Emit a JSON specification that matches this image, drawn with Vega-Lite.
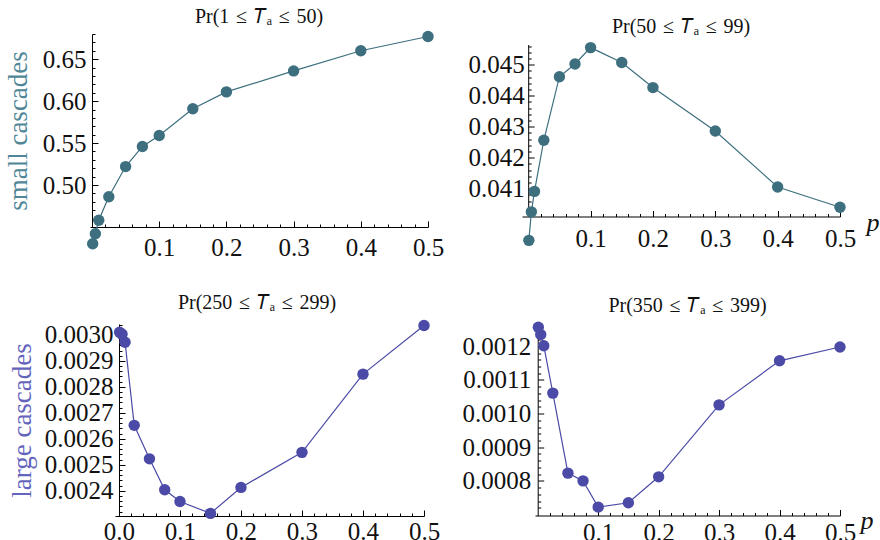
{
  "$schema": "https://vega.github.io/schema/vega-lite/v6.json",
  "background": "white",
  "padding": {"left": 4, "top": 6, "right": 5, "bottom": 2},
  "datasets": {
    "s1": [
      {"p": 0.001, "pr": 0.430}, {"p": 0.005, "pr": 0.442}, {"p": 0.01, "pr": 0.458},
      {"p": 0.025, "pr": 0.486}, {"p": 0.05, "pr": 0.522}, {"p": 0.075, "pr": 0.546},
      {"p": 0.1, "pr": 0.559}, {"p": 0.15, "pr": 0.591}, {"p": 0.2, "pr": 0.611},
      {"p": 0.3, "pr": 0.636}, {"p": 0.4, "pr": 0.660}, {"p": 0.5, "pr": 0.677}
    ],
    "s2": [
      {"p": 0.001, "pr": 0.03933}, {"p": 0.005, "pr": 0.04025}, {"p": 0.01, "pr": 0.04091},
      {"p": 0.025, "pr": 0.04256}, {"p": 0.05, "pr": 0.04461}, {"p": 0.075, "pr": 0.04502},
      {"p": 0.1, "pr": 0.04555}, {"p": 0.15, "pr": 0.04507}, {"p": 0.2, "pr": 0.04426},
      {"p": 0.3, "pr": 0.04286}, {"p": 0.4, "pr": 0.04105}, {"p": 0.5, "pr": 0.04040}
    ],
    "s3": [
      {"p": 0.001, "pr": 0.003010}, {"p": 0.005, "pr": 0.003003}, {"p": 0.01, "pr": 0.002972},
      {"p": 0.025, "pr": 0.002652}, {"p": 0.05, "pr": 0.002523}, {"p": 0.075, "pr": 0.002404},
      {"p": 0.1, "pr": 0.002359}, {"p": 0.15, "pr": 0.002313}, {"p": 0.2, "pr": 0.002413},
      {"p": 0.3, "pr": 0.002548}, {"p": 0.4, "pr": 0.002849}, {"p": 0.5, "pr": 0.003036}
    ],
    "s4": [
      {"p": 0.001, "pr": 0.001257}, {"p": 0.005, "pr": 0.001235}, {"p": 0.01, "pr": 0.001202},
      {"p": 0.025, "pr": 0.001061}, {"p": 0.05, "pr": 0.000823}, {"p": 0.075, "pr": 0.000800},
      {"p": 0.1, "pr": 0.000722}, {"p": 0.15, "pr": 0.000735}, {"p": 0.2, "pr": 0.000812},
      {"p": 0.3, "pr": 0.001026}, {"p": 0.4, "pr": 0.001157}, {"p": 0.5, "pr": 0.001198}
    ]
  },
  "config": {
    "view": {"stroke": null},
    "axis": {
      "grid": false,
      "domainColor": "#000",
      "domainWidth": 1,
      "tickColor": "#000",
      "tickWidth": 1,
      "labelFont": "Liberation Serif",
      "labelFontSize": 25,
      "labelColor": "#111",
      "labelFlush": false,
      "labelOverlap": false,
      "titleFont": "Liberation Serif",
      "titleFontWeight": "normal"
    },
    "title": {"font": "Liberation Serif", "fontSize": 20, "fontWeight": "normal", "color": "#111", "frame": "group", "anchor": "middle"}
  },
  "vconcat": [
    {
      "hconcat": [
        {
          "width": 338, "height": 193,
          "title": {"text": "Pr(1\u2004≤\u2004𝑇ₐ\u2004≤\u200450)", "offset": 4},
          "data": {"name": "s1"},
          "layer": [
            {
              "mark": {"type": "line", "color": "#3d6f7f", "strokeWidth": 1.2, "clip": false},
              "encoding": {
                "x": {"field": "p", "type": "quantitative", "scale": {"domain": [-0.003, 0.5], "nice": false, "zero": false},
                  "axis": {"title": null, "values": [0.1, 0.2, 0.3, 0.4, 0.5], "format": ".1f", "tickSize": -6, "labelPadding": 14}},
                "y": {"field": "pr", "type": "quantitative", "scale": {"domain": [0.45, 0.68], "nice": false, "zero": false},
                  "axis": {"title": "small cascades", "titleColor": "#4f8798", "titleFontSize": 27, "titlePadding": 10, "offset": -2,
                    "values": [0.5, 0.55, 0.6, 0.65], "format": ".2f", "tickSize": -6, "labelPadding": 12}}
              }
            },
            {
              "mark": {"type": "circle", "color": "#3d6f7f", "size": 130, "opacity": 1, "clip": false},
              "encoding": {
                "x": {"field": "p", "type": "quantitative",
                  "axis": {"orient": "bottom", "title": null, "labels": false, "domain": false, "tickSize": -3,
                    "values": [0.02, 0.04, 0.06, 0.08, 0.12, 0.14, 0.16, 0.18, 0.22, 0.24, 0.26, 0.28, 0.32, 0.34, 0.36, 0.38, 0.42, 0.44, 0.46, 0.48]}},
                "y": {"field": "pr", "type": "quantitative",
                  "axis": {"orient": "left", "offset": -2, "title": null, "labels": false, "domain": false, "tickSize": -3,
                    "values": [0.46, 0.47, 0.48, 0.49, 0.51, 0.52, 0.53, 0.54, 0.56, 0.57, 0.58, 0.59, 0.61, 0.62, 0.63, 0.64, 0.66, 0.67, 0.68]}}
              }
            }
          ],
          "resolve": {"axis": {"x": "independent", "y": "independent"}}
        },
        {
          "width": 318, "height": 172,
          "title": {"text": "Pr(50\u2004≤\u2004𝑇ₐ\u2004≤\u200499)", "offset": 5},
          "data": {"name": "s2"},
          "layer": [
            {
              "mark": {"type": "line", "color": "#3d6f7f", "strokeWidth": 1.2, "clip": false},
              "encoding": {
                "x": {"field": "p", "type": "quantitative", "scale": {"domain": [-0.01, 0.5], "nice": false, "zero": false},
                  "axis": {"title": "p", "titleFontStyle": "italic", "titleFontSize": 26, "titleColor": "#111", "titleAnchor": "start", "titleAlign": "left", "titleBaseline": "middle", "titleX": 344, "titleY": 6,
                    "values": [0.1, 0.2, 0.3, 0.4, 0.5], "format": ".1f", "tickSize": -6, "labelPadding": 16}},
                "y": {"field": "pr", "type": "quantitative", "scale": {"domain": [0.0401, 0.04565], "nice": false, "zero": false},
                  "axis": {"title": null, "offset": -6.2, "values": [0.041, 0.042, 0.043, 0.044, 0.045], "format": ".3f", "tickSize": -6, "labelPadding": 10}}
              }
            },
            {
              "mark": {"type": "circle", "color": "#3d6f7f", "size": 130, "opacity": 1, "clip": false},
              "encoding": {
                "x": {"field": "p", "type": "quantitative",
                  "axis": {"orient": "bottom", "title": null, "labels": false, "domain": false, "tickSize": -3,
                    "values": [0.02, 0.04, 0.06, 0.08, 0.12, 0.14, 0.16, 0.18, 0.22, 0.24, 0.26, 0.28, 0.32, 0.34, 0.36, 0.38, 0.42, 0.44, 0.46, 0.48]}},
                "y": {"field": "pr", "type": "quantitative",
                  "axis": {"orient": "left", "offset": -6.2, "title": null, "labels": false, "domain": false, "tickSize": -3,
                    "values": [0.0402, 0.0404, 0.0406, 0.0408, 0.0412, 0.0414, 0.0416, 0.0418, 0.0422, 0.0424, 0.0426, 0.0428, 0.0432, 0.0434, 0.0436, 0.0438, 0.0442, 0.0444, 0.0446, 0.0448, 0.0452, 0.0454, 0.0456]}}
              }
            }
          ],
          "resolve": {"axis": {"x": "independent", "y": "independent"}}
        }
      ],
      "spacing": 94,
      "bounds": "flush",
      "center": true
    },
    {
      "hconcat": [
        {
          "width": 334, "height": 192,
          "title": {"text": "Pr(250\u2004≤\u2004𝑇ₐ\u2004≤\u2004299)", "offset": 7},
          "data": {"name": "s3"},
          "layer": [
            {
              "mark": {"type": "line", "color": "#4b4aa6", "strokeWidth": 1.2, "clip": false},
              "encoding": {
                "x": {"field": "p", "type": "quantitative", "scale": {"domain": [-0.0065, 0.5], "range": [25, 334], "nice": false, "zero": false},
                  "axis": {"title": null, "values": [0, 0.1, 0.2, 0.3, 0.4, 0.5], "format": ".1f", "tickSize": -6, "labelPadding": 9.5}},
                "y": {"field": "pr", "type": "quantitative", "scale": {"domain": [0.002303, 0.003042], "nice": false, "zero": false},
                  "axis": {"title": "large cascades", "titleColor": "#6464bd", "titleFontSize": 27, "titlePadding": 8, "offset": -29,
                    "values": [0.0024, 0.0025, 0.0026, 0.0027, 0.0028, 0.0029, 0.003], "format": ".4f", "tickSize": -6, "labelPadding": 12}}
              }
            },
            {
              "mark": {"type": "circle", "color": "#4b4aa6", "size": 130, "opacity": 1, "clip": false},
              "encoding": {
                "x": {"field": "p", "type": "quantitative",
                  "axis": {"orient": "bottom", "title": null, "labels": false, "domain": false, "tickSize": -3,
                    "values": [0.02, 0.04, 0.06, 0.08, 0.12, 0.14, 0.16, 0.18, 0.22, 0.24, 0.26, 0.28, 0.32, 0.34, 0.36, 0.38, 0.42, 0.44, 0.46, 0.48]}},
                "y": {"field": "pr", "type": "quantitative",
                  "axis": {"orient": "left", "offset": -29, "title": null, "labels": false, "domain": false, "tickSize": -3,
                    "values": [0.00232, 0.00234, 0.00236, 0.00238, 0.00242, 0.00244, 0.00246, 0.00248, 0.00252, 0.00254, 0.00256, 0.00258, 0.00262, 0.00264, 0.00266, 0.00268, 0.00272, 0.00274, 0.00276, 0.00278, 0.00282, 0.00284, 0.00286, 0.00288, 0.00292, 0.00294, 0.00296, 0.00298, 0.00302, 0.00304]}}
              }
            }
          ],
          "resolve": {"axis": {"x": "independent", "y": "independent"}}
        },
        {
          "width": 305, "height": 191,
          "title": {"text": "Pr(350\u2004≤\u2004𝑇ₐ\u2004≤\u2004399)", "offset": 5},
          "data": {"name": "s4"},
          "layer": [
            {
              "mark": {"type": "line", "color": "#4b4aa6", "strokeWidth": 1.2, "clip": false},
              "encoding": {
                "x": {"field": "p", "type": "quantitative", "scale": {"domain": [-0.0045, 0.5], "nice": false, "zero": false},
                  "axis": {"title": "p", "titleFontStyle": "italic", "titleFontSize": 26, "titleColor": "#111", "titleAnchor": "start", "titleAlign": "left", "titleBaseline": "middle", "titleX": 325, "titleY": 5,
                    "values": [0.1, 0.2, 0.3, 0.4, 0.5], "format": ".1f", "tickSize": -6, "labelPadding": 10.5}},
                "y": {"field": "pr", "type": "quantitative", "scale": {"domain": [0.000697, 0.001265], "nice": false, "zero": false},
                  "axis": {"title": null, "offset": -2.7, "values": [0.0008, 0.0009, 0.001, 0.0011, 0.0012], "format": ".4f", "tickSize": -6, "labelPadding": 13}}
              }
            },
            {
              "mark": {"type": "circle", "color": "#4b4aa6", "size": 130, "opacity": 1, "clip": false},
              "encoding": {
                "x": {"field": "p", "type": "quantitative",
                  "axis": {"orient": "bottom", "title": null, "labels": false, "domain": false, "tickSize": -3,
                    "values": [0.02, 0.04, 0.06, 0.08, 0.12, 0.14, 0.16, 0.18, 0.22, 0.24, 0.26, 0.28, 0.32, 0.34, 0.36, 0.38, 0.42, 0.44, 0.46, 0.48]}},
                "y": {"field": "pr", "type": "quantitative",
                  "axis": {"orient": "left", "offset": -2.7, "title": null, "labels": false, "domain": false, "tickSize": -3,
                    "values": [0.00072, 0.00074, 0.00076, 0.00078, 0.00082, 0.00084, 0.00086, 0.00088, 0.00092, 0.00094, 0.00096, 0.00098, 0.00102, 0.00104, 0.00106, 0.00108, 0.00112, 0.00114, 0.00116, 0.00118, 0.00122, 0.00124, 0.00126]}}
              }
            }
          ],
          "resolve": {"axis": {"x": "independent", "y": "independent"}}
        }
      ],
      "spacing": 111,
      "bounds": "flush",
      "center": true
    }
  ],
  "spacing": 32,
  "bounds": "full",
  "align": "none"
}
